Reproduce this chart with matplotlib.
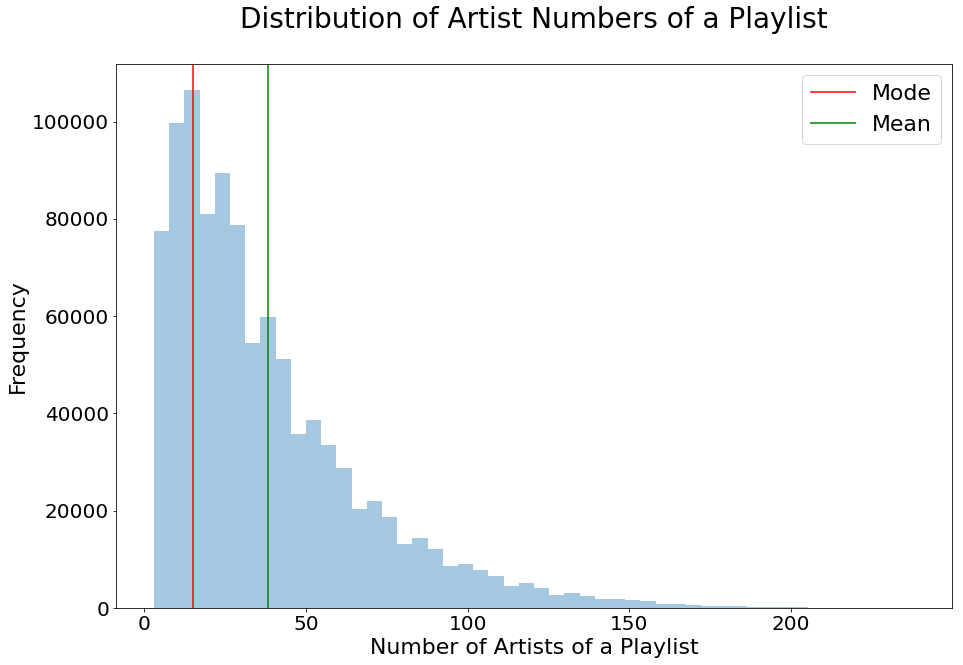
import matplotlib
matplotlib.use('Agg')
import matplotlib.pyplot as plt
import numpy as np

# Histogram data: 50 equal bins between min and max artist count
ARTIST_MIN = 3
ARTIST_MAX = 238
N_BINS = 50
COUNTS = [
    77500, 99700, 106500, 81000, 89400, 78700, 54500, 59800, 51200, 35800,
    38600, 33500, 28800, 20300, 22000, 18700, 13200, 14400, 12100, 8700,
    9100, 7900, 6600, 4600, 5200, 4100, 2700, 3100, 2500, 1850,
    1850, 1700, 1450, 850, 850, 650, 500, 480, 450, 300,
    290, 280, 270, 70, 45, 30, 18, 12, 7, 4,
]
MODE = 15
MEAN = 38.1

edges = np.linspace(ARTIST_MIN, ARTIST_MAX, N_BINS + 1)
centers = (edges[:-1] + edges[1:]) / 2

fig = plt.figure(figsize=(963 / 72, 665 / 72), dpi=72)
ax = fig.add_axes([116 / 963, 1 - 608 / 665, (952 - 116) / 963, (608 - 64) / 665])

ax.hist(centers, bins=edges, weights=COUNTS, color='#1f77b4', alpha=0.4)
ax.axvline(MODE, color='r', alpha=0.75, linewidth=2, label='Mode')
ax.axvline(MEAN, color='g', alpha=0.75, linewidth=2, label='Mean')

ax.set_title('Distribution of Artist Numbers of a Playlist', fontsize=28, pad=36)
ax.set_xlabel('Number of Artists of a Playlist', fontsize=22)
ax.set_ylabel('Frequency', fontsize=22)
ax.tick_params(labelsize=20)
ax.legend(fontsize=22, loc='upper right')

fig.savefig('out.png', dpi=72)
